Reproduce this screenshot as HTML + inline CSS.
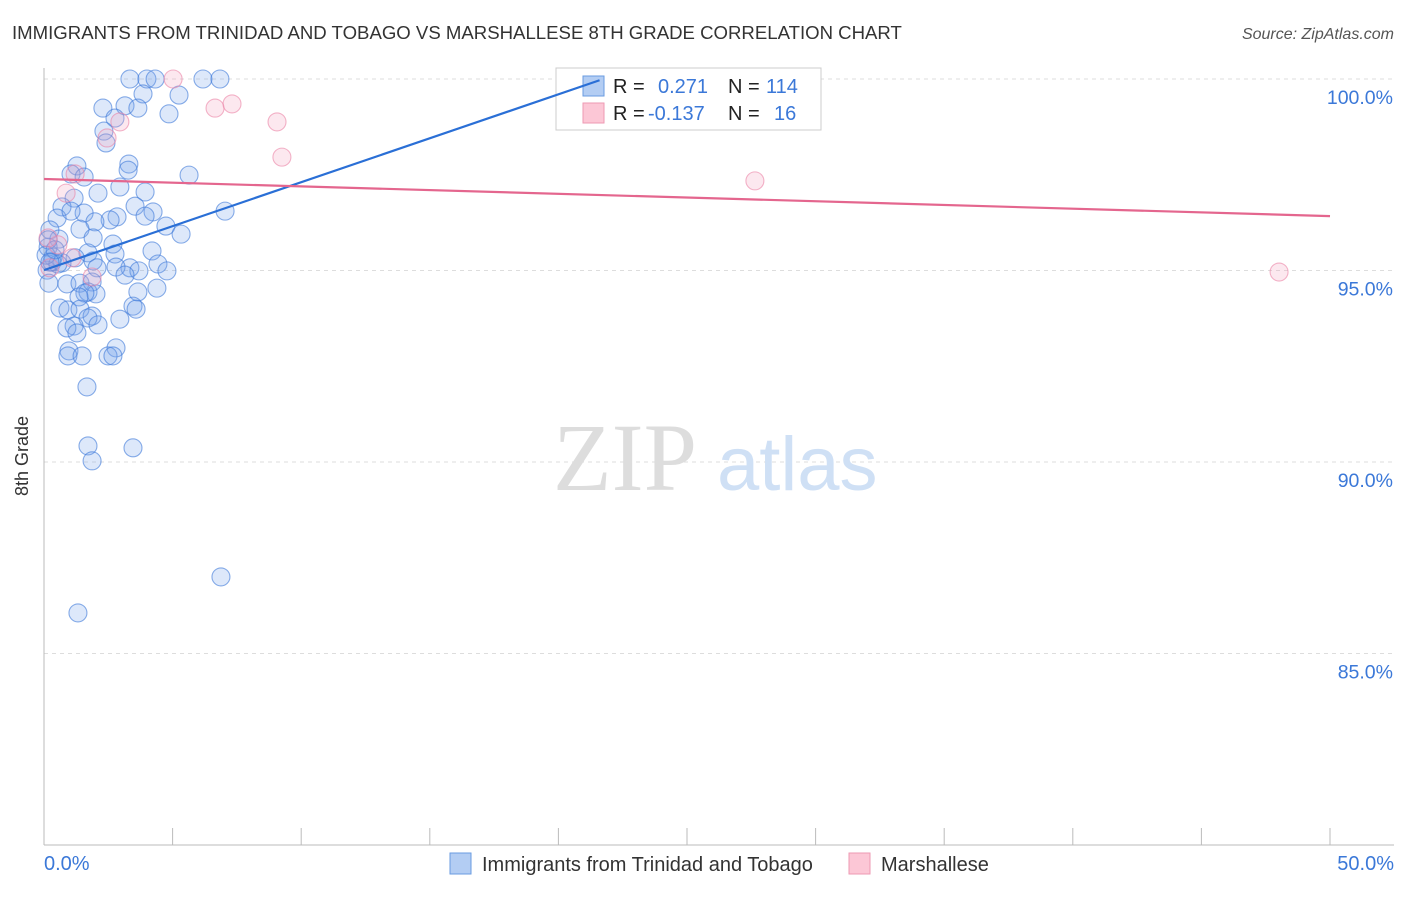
<!DOCTYPE html>
<html><head><meta charset="utf-8"><style>
body{margin:0;background:#fff;font-family:"Liberation Sans",sans-serif;}
svg text{font-family:"Liberation Sans",sans-serif;}
</style></head><body>
<svg width="1406" height="892" xmlns="http://www.w3.org/2000/svg">
<text x="12" y="39" font-size="18.6" fill="#333">IMMIGRANTS FROM TRINIDAD AND TOBAGO VS MARSHALLESE 8TH GRADE CORRELATION CHART</text>
<text x="1394" y="39" font-size="16" fill="#555" font-style="italic" text-anchor="end">Source: ZipAtlas.com</text>
<g id="grid"></g>
<g>
<text x="553" y="490" font-size="96" fill="#ddd" style="font-family:'Liberation Serif',serif">ZIP</text>
<text x="717" y="490" font-size="76" fill="#cfe0f5">atlas</text>
</g>
<line x1="44" y1="68" x2="44" y2="845" stroke="#bbb"/>
<line x1="44" y1="845" x2="1394" y2="845" stroke="#bbb"/>
<g id="xticks"></g>
<text x="28" y="456" font-size="18" fill="#333" transform="rotate(-90 28 456)" text-anchor="middle">8th Grade</text>
<text x="44" y="870" font-size="20" fill="#3b78d8">0.0%</text>
<text x="1394" y="870" font-size="20" fill="#3b78d8" text-anchor="end">50.0%</text>
<g id="points"></g>
<g>
<rect x="556" y="68" width="265" height="62" fill="#fff" stroke="#ccc"/>
<rect x="583" y="76" width="21" height="20" fill="#b3cdf3" stroke="#6a9be0"/>
<rect x="583" y="103" width="21" height="20" fill="#fcc7d6" stroke="#ee9ab3"/>
<text x="613" y="93" font-size="20" fill="#222">R =</text>
<text x="658" y="93" font-size="20" fill="#3b78d8">0.271</text>
<text x="728" y="93" font-size="20" fill="#222">N =</text>
<text x="766" y="93" font-size="20" fill="#3b78d8">114</text>
<text x="613" y="120" font-size="20" fill="#222">R =</text>
<text x="648" y="120" font-size="20" fill="#3b78d8">-0.137</text>
<text x="728" y="120" font-size="20" fill="#222">N =</text>
<text x="774" y="120" font-size="20" fill="#3b78d8">16</text>
</g>
<g id="trends"></g>
<g>
<rect x="450" y="853" width="21" height="21" fill="#b3cdf3" stroke="#6a9be0"/>
<text x="482" y="871" font-size="20" fill="#333">Immigrants from Trinidad and Tobago</text>
<rect x="849" y="853" width="21" height="21" fill="#fcc7d6" stroke="#ee9ab3"/>
<text x="881" y="871" font-size="20" fill="#333">Marshallese</text>
</g>
</svg>
<script>
const blueX=[3.34,4.00,4.32,6.18,6.84,28.23,3.85,5.25,2.29,3.15,3.65,4.86,2.76,2.33,2.41,3.30,3.27,1.28,1.05,1.56,5.64,2.95,3.93,2.10,1.17,0.70,3.54,1.56,4.24,3.93,2.84,7.04,0.51,2.57,1.98,1.05,4.74,5.33,1.40,0.23,1.91,0.58,2.68,4.20,0.16,2.76,1.71,0.35,1.21,1.91,4.43,3.34,3.69,4.78,2.80,2.06,3.15,0.70,0.12,0.19,0.89,1.40,1.87,1.71,2.02,3.65,4.39,1.59,1.36,3.46,3.58,0.62,0.93,1.40,1.87,1.71,2.95,2.10,1.17,0.89,1.28,2.80,0.97,0.93,1.48,2.49,2.68,1.67,1.71,3.46,1.87,6.88,1.32,0.16,0.31,0.54,0.08,0.43,0.23];
const blueY=[100,100,100,100,100,100,99.61,99.58,99.24,99.30,99.24,99.09,98.98,98.64,98.33,97.78,97.62,97.73,97.52,97.44,97.49,97.18,97.05,97.02,96.89,96.66,96.68,96.50,96.53,96.42,96.40,96.55,96.37,96.32,96.27,96.55,96.16,95.95,96.08,96.06,95.85,95.82,95.69,95.51,95.61,95.43,95.46,95.35,95.33,95.25,95.17,95.07,94.99,94.99,95.09,95.07,94.88,95.20,95.01,94.67,94.65,94.67,94.70,94.44,94.39,94.44,94.54,94.41,94.31,94.07,93.99,94.02,93.97,93.99,93.81,93.76,93.73,93.58,93.55,93.50,93.37,92.98,92.90,92.77,92.77,92.77,92.77,91.96,90.42,90.37,90.03,87.00,86.06,95.80,95.22,95.17,95.40,95.54,95.22];
const pinkX=[5.02,6.65,7.31,9.06,9.25,2.95,2.45,1.21,0.86,0.54,1.09,1.87,0.23,27.64,48.02,0.16];
const pinkY=[100,99.24,99.35,98.88,97.96,98.88,98.46,97.52,97.02,95.67,95.33,94.83,95.07,97.34,94.96,95.85];
const blueTrend=[95.01,0.2295];
const pinkTrend=[97.39,-0.0194];
const yTicks=[100,95,90,85];
const yTickLabels=["100.0%","95.0%","90.0%","85.0%"];
const xTicks=[0,5,10,15,20,25,30,35,40,45,50];

const NS="http://www.w3.org/2000/svg";
const sx=v=>44+v*25.72;
const sy=v=>79+(100-v)*38.3;
function mk(tag,attrs,parent){const e=document.createElementNS(NS,tag);for(const k in attrs)e.setAttribute(k,attrs[k]);parent.appendChild(e);return e;}
const grid=document.getElementById('grid');
yTicks.forEach((t,i)=>{
  const l=mk('line',{x1:44,x2:1394,y1:sy(t),y2:sy(t),stroke:'#ddd','stroke-dasharray':'4,4'},grid);
  
  
  const tx=mk('text',{x:1393,y:sy(t)+25,'font-size':19.5,fill:'#3b78d8','text-anchor':'end'},grid);
  tx.textContent=yTickLabels[i];
  
  
});
const xt=document.getElementById('xticks');
xTicks.forEach(t=>{
  const l=mk('line',{x1:sx(t),x2:sx(t),y1:828,y2:845,stroke:'#bbb'},xt);
  
  
});
const pts=document.getElementById('points');
blueX.forEach((x,i)=>{
  const c=mk('circle',{cx:sx(x),cy:sy(blueY[i]),r:9,fill:'rgba(120,165,235,0.25)',stroke:'rgba(60,120,216,0.6)','stroke-width':1.1},pts);
  
  
});
pinkX.forEach((x,i)=>{
  const c=mk('circle',{cx:sx(x),cy:sy(pinkY[i]),r:9,fill:'rgba(245,165,190,0.25)',stroke:'rgba(235,130,165,0.6)','stroke-width':1.1},pts);
  
  
});
const tr=document.getElementById('trends');
const bx2=21.6;
const bl=mk('line',{x1:sx(0),y1:sy(blueTrend[0]),x2:sx(bx2),y2:sy(blueTrend[0]+blueTrend[1]*bx2),stroke:'#2a6fd6','stroke-width':2.2},tr);


const pl=mk('line',{x1:sx(0),y1:sy(pinkTrend[0]),x2:sx(50),y2:sy(pinkTrend[0]+pinkTrend[1]*50),stroke:'#e4668e','stroke-width':2.2},tr);


</script>
</body></html>
